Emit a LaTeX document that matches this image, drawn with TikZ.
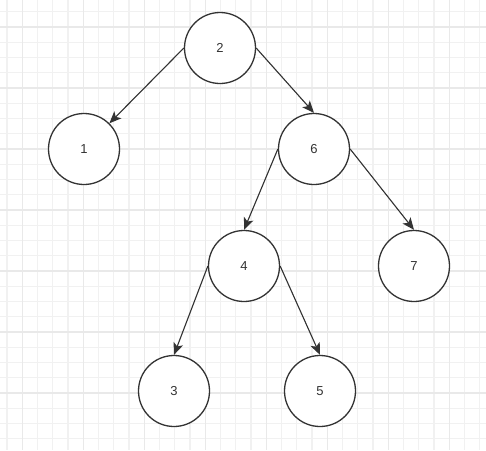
\documentclass[tikz,border=0pt]{standalone}
\usepackage{fontspec}
\setsansfont{Liberation Sans}
\usepackage{tikz}
\usetikzlibrary{arrows.meta,positioning}
\usepackage{xcolor}
\definecolor{ink}{HTML}{333333}
\definecolor{gridminor}{HTML}{F1F1F1}
\definecolor{gridmajor}{HTML}{E9E9E9}

\begin{document}
\begin{tikzpicture}[
  x=1pt, y=-1pt,
  every node/.style={font=\sffamily\fontsize{13}{15}\selectfont, text=ink},
  treenode/.style={circle, draw=ink, line width=1.3pt, fill=white,
                   minimum size=71pt, inner sep=0pt},
  arr/.style={-{Stealth[length=12pt, width=10pt, inset=3pt]}, draw=ink, fill=ink, line width=1.1pt},
]
% background and grid
\fill[white] (0,0) rectangle (486,450);
\useasboundingbox (0,0) rectangle (486,450);
\foreach \k in {0,...,31}
  \draw[gridminor, line width=1.2pt] (7.05+15.25*\k,0) -- (7.05+15.25*\k,450);
\foreach \k in {0,...,28}
  \draw[gridminor, line width=1.2pt] (0,11.75+15.25*\k) -- (486,11.75+15.25*\k);
\foreach \k in {0,...,7}
  \draw[gridmajor, line width=1.6pt] (22.3+61*\k,0) -- (22.3+61*\k,450);
\foreach \k in {0,...,6}
  \draw[gridmajor, line width=1.6pt] (0,27+61*\k) -- (486,27+61*\k);

% nodes
\node[treenode] (n2) at (220,48) {2};
\node[treenode] (n1) at (84,149) {1};
\node[treenode] (n6) at (314,149) {6};
\node[treenode] (n4) at (244,266) {4};
\node[treenode] (n7) at (414,266) {7};
\node[treenode] (n3) at (174,391) {3};
\node[treenode] (n5) at (320,391) {5};

% edges
\draw[arr] (n2.west) -- (n1);
\draw[arr] (n2.east) -- (n6.north);
\draw[arr] (n6.west) -- (n4.north);
\draw[arr] (n6.east) -- (n7.north);
\draw[arr] (n4.west) -- (n3.north);
\draw[arr] (n4.east) -- (n5.north);
\end{tikzpicture}
\end{document}
